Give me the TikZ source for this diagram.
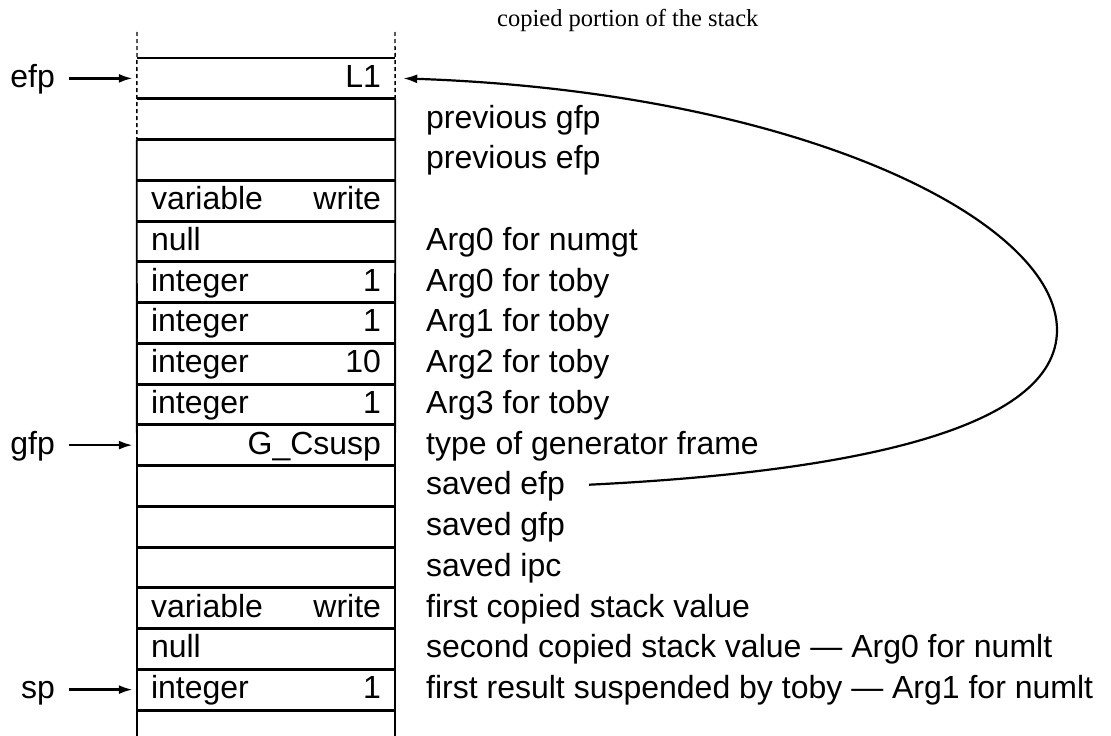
\documentclass[tikz,border=0pt]{standalone}
\usepackage{fontspec}
\newfontfamily\sansf{Liberation Sans}
\newfontfamily\seriff{Liberation Serif}
\usetikzlibrary{arrows.meta,calc}
\tikzset{
  cell/.style={minimum width=258pt, minimum height=40.75pt, inner sep=0pt,
    text width=230pt, text height=24pt, text depth=6pt,
    font=\sansf\fontsize{32}{38}\selectfont},
  lab/.style={inner sep=0pt, text height=24pt, text depth=6pt,
    font=\sansf\fontsize{32}{38}\selectfont, anchor=west},
  ptrlab/.style={lab, anchor=east},
  head/.style={inner sep=0pt, font=\seriff\fontsize{24.5}{28}\selectfont, anchor=base west},
  hline/.style={line width=2.6pt},
  side/.style={line width=1.8pt},
  sidedash/.style={line width=1.4pt, dash pattern=on 4pt off 3pt},
  ptr/.style={line width=2.5pt, -{Latex[length=14pt,width=9pt]}, shorten <=14pt, shorten >=4pt},
  loop/.style={line width=2.2pt, -{Latex[length=14pt,width=9pt]}, shorten <=24pt}
}
\begin{document}
\begin{tikzpicture}[x=1pt,y=-1pt]
\useasboundingbox (0,0) rectangle (1111,736);
% heading
\node[head] (title) at (497,26) {copied portion of the stack};
% stack cells
\foreach \i/\txt in {0/{\hfill L1},1/{},2/{},3/{variable\hfill write},4/{null},
  5/{integer\hfill 1},6/{integer\hfill 1},7/{integer\hfill 10},8/{integer\hfill 1},
  9/{\hfill G\_Csusp},10/{},11/{},12/{},13/{variable\hfill write},14/{null},
  15/{integer\hfill 1}}{
  \node[cell] (r\i) at (266,{78.375+40.75*\i}) {\txt};
  \draw[hline] (r\i.north west) -- (r\i.north east);
  \draw[hline] (r\i.south west) -- (r\i.south east);
}
% column sides
\draw[sidedash] (137,32) -- (r2.north west);
\draw[side] (r2.north west) -- (137,736);
\draw[sidedash] (395,32) -- (r1.north east);
\draw[side] (r1.north east) -- (395,736);
% descriptions
\foreach \i/\txt in {1/{previous gfp},2/{previous efp},4/{Arg0 for numgt},
  5/{Arg0 for toby},6/{Arg1 for toby},7/{Arg2 for toby},8/{Arg3 for toby},
  9/{type of generator frame},10/{saved efp},11/{saved gfp},12/{saved ipc},
  13/{first copied stack value},14/{second copied stack value — Arg0 for numlt},
  15/{first result suspended by toby — Arg1 for numlt}}{
  \node[lab] (l\i) at (426,{78.375+40.75*\i}) {\txt};
}
% pointers
\node[ptrlab] (efp) at (55,78.375) {efp};
\node[ptrlab] (gfp) at (55,445.125) {gfp};
\node[ptrlab] (sp) at (55,689.625) {sp};
\draw[ptr] (efp) -- (r0);
\draw[ptr] (gfp) -- (r9);
\draw[ptr] (sp) -- (r15);
% loop back arrow
\coordinate (r0tip) at ($(r0.east)+(8,0)$);
\draw[loop] (l10.east) .. controls (850,472) and (1057,430) .. (1057,330)
  .. controls (1057,220) and (800,92) .. (r0tip);
\end{tikzpicture}
\end{document}
